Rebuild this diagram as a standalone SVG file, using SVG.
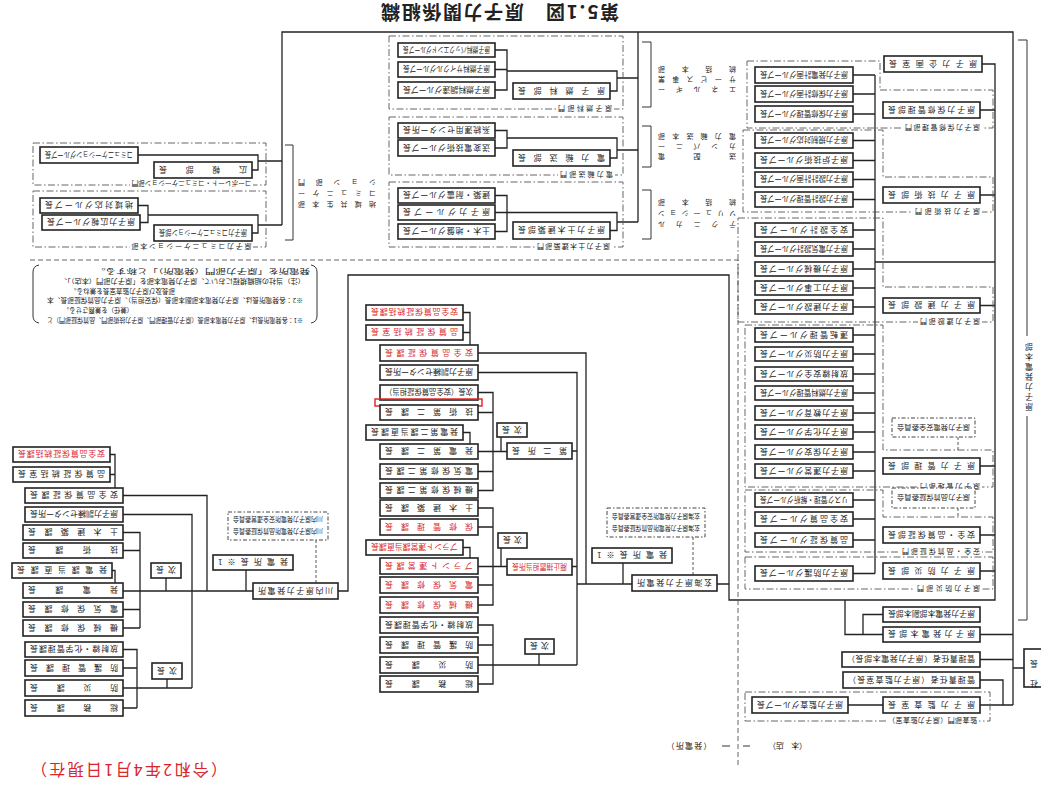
<svg xmlns="http://www.w3.org/2000/svg" width="1041" height="788" viewBox="0 0 1041 788">
<style>
.b{fill:#fff;stroke:#222;stroke-width:1.6}
.c{fill:none;stroke:#222;stroke-width:1.3}
.t1{fill:none;stroke:#333;stroke-width:1}
.d{fill:none;stroke:#555;stroke-width:0.9;stroke-dasharray:7 2.5 1.5 2.5}
.db{fill:#fff;stroke:#444;stroke-width:1;stroke-dasharray:4 2 1.5 2}
.k{fill:none;stroke:#444;stroke-width:0.9;stroke-dasharray:3 2}
.k2{fill:none;stroke:#555;stroke-width:0.9;stroke-dasharray:5 3}
.w{fill:#fff;stroke:none}
text{font-family:"Noto Sans CJK JP","Noto Sans",sans-serif;font-size:8px;fill:#222;dominant-baseline:central}
.r{fill:#d9262b}
.s{font-size:7px}
.n{font-size:6.5px}
</style>

<g id="connectors">
<path class="c" d="M138,155H258V170H252 M258,161H282 M138,205.5H148V222.5H140 M148,215H258V233H252 M258,225H282 M282,225V32H1013V705"/>
<path class="c" d="M495,50H507V90H495 M495,69.5H507 M507,71H617V91H610 M617,78H638 M495,130.5H507V148H495 M507,138H617V158H610 M617,150H638 M495,195.5H507V231.5H495 M495,212.5H617V230.5H610 M617,222H638 M638,32V222"/>
<path class="t1" d="M285,145H293V240H285 M642,42H651V107H642 M642,126H651V167H642 M642,190H651V239H642 M1018,40H1027V336 M1027,416V620H1018"/>
<path class="c" d="M982,64H995V600H729V275H348V591H338 M875,75V573.5 M875,262H995"/>
<path class="c" d="M853,75H875 M853,94H875 M853,114H875 M853,140.5H875 M853,160.5H875 M853,179.5H875 M853,199.5H875 M853,230H875 M853,249H875 M853,269H875 M853,288H875 M853,307H875 M853,335H875 M853,354H875 M853,374H875 M853,393H875 M853,413H875 M853,432H875 M853,452H875 M853,471H875 M853,500H875 M853,519H875 M853,540H875 M853,573.5H875"/>
<path class="c" d="M980,110H995 M980,195H995 M980,305.5H995 M980,466H995 M980,535H995 M980,571H995 M845,600V634.5H883 M863,634.5V614.5H883 M980,634.5H1013 M980,659.5H1013 M980,680H1003V705 M980,705H1013 M1013,668H1024 M848,705H883"/>
<path class="c" d="M110,454.5H115V488 M110,474.5H115 M123,495.5H207V591 M123,514.5H192V688 M123,532.5H140V628 M123,550.5H140 M123,609.5H140 M123,628H140 M112,570.5H115V583 M123,591H253 M166,578V591 M246,570V591 M123,649.5H137V708 M123,668H137 M123,688H192 M123,708H137 M167,679V688"/>
<path class="c" d="M463,312.5H470V345 M463,332.5H470 M478,353H586V584 M478,372.5H577V665 M478,392.5H493V490.5H478 M478,412.5H493 M478,451.5H507 M478,471.5H493 M463,432.5H470V444 M501,437V451.5 M572,451H577 M478,508H493V605H478 M478,527H493 M478,566.5H507 M478,585H493 M463,547.5H470V558 M501,548V566.5 M572,566.5H577 M478,625H493V684H478 M478,645H493 M478,665H577 M539,654V665 M577,584H632 M717,584H729 M623,563V584"/>
<path class="k" d="M693,537V575 M316,540V583 M958,437V450 M958,508V517"/>
</g>

<g id="frames">
<path class="k2" d="M30,260H738V765"/>
<rect class="d" x="33" y="143" width="233" height="42"/>
<rect class="d" x="33" y="191" width="233" height="56"/>
<rect class="d" x="389" y="36" width="234" height="73"/>
<rect class="d" x="389" y="117" width="234" height="58"/>
<rect class="d" x="389" y="182" width="234" height="65"/>
<path class="d" d="M747,61H880V90H993V128H747Z"/>
<path class="d" d="M743,130H883V177H993V212H743Z"/>
<path class="d" d="M738,218H883V287H993V322H738Z"/>
<path class="d" d="M745,325H883V450H993V487H745Z"/>
<path class="d" d="M745,490H883V517H993V552H745Z"/>
<rect class="d" x="745" y="557" width="248" height="32"/>
<rect class="d" x="745" y="692" width="245" height="29"/>
<path class="t1" d="M39,265Q33,266 33,272V316Q33,322 39,323 M311,265Q317,266 317,272V316Q317,322 311,323"/>
</g>

<g id="labels">
<rect class="w" x="130" y="180" width="123" height="8"/><text class="s" x="131.5" y="184" textLength="120" lengthAdjust="spacingAndGlyphs" transform="rotate(180 191.5 184)">コーポレート・コミュニケーション部門</text>
<rect class="w" x="130" y="242.5" width="123" height="8"/><text class="s" x="131.5" y="246.5" textLength="120" lengthAdjust="spacing" transform="rotate(180 191.5 246.5)">原子力コミュニケーション本部</text>
<rect class="w" x="556" y="105" width="58" height="8"/><text class="s" x="558" y="109" textLength="54" lengthAdjust="spacing" transform="rotate(180 585 109)">原子燃料部門</text>
<rect class="w" x="558" y="171" width="57" height="8"/><text class="s" x="560" y="175" textLength="53" lengthAdjust="spacing" transform="rotate(180 586.5 175)">電力輸送部門</text>
<rect class="w" x="535" y="243" width="77" height="8"/><text class="s" x="537" y="247" textLength="73" lengthAdjust="spacing" transform="rotate(180 573.5 247)">原子力土木建築部門</text>
<rect class="w" x="903" y="124" width="79" height="8"/><text class="s" x="905" y="128" textLength="75" lengthAdjust="spacing" transform="rotate(180 942.5 128)">原子力保修管理部門</text>
<rect class="w" x="913" y="208" width="69" height="8"/><text class="s" x="915" y="212" textLength="65" lengthAdjust="spacing" transform="rotate(180 947.5 212)">原子力技術部門</text>
<rect class="w" x="918" y="318" width="64" height="8"/><text class="s" x="920" y="322" textLength="60" lengthAdjust="spacing" transform="rotate(180 950 322)">原子力建設部門</text>
<rect class="w" x="918" y="483" width="64" height="8"/><text class="s" x="920" y="487" textLength="60" lengthAdjust="spacing" transform="rotate(180 950 487)">原子力管理部門</text>
<rect class="w" x="900" y="548" width="82" height="8"/><text class="s" x="902" y="552" textLength="78" lengthAdjust="spacing" transform="rotate(180 941 552)">安全・品質保証部門</text>
<rect class="w" x="915" y="585" width="67" height="8"/><text class="s" x="917" y="589" textLength="63" lengthAdjust="spacing" transform="rotate(180 948.5 589)">原子力防災部門</text>
<rect class="w" x="886" y="717" width="93" height="8"/><text class="s" x="888" y="721" textLength="89" lengthAdjust="spacing" transform="rotate(180 932.5 721)">監査部門（原子力監査室）</text>
<text class="s" x="298" y="205" textLength="78" lengthAdjust="spacing" transform="rotate(180 337 205)">地域共生本部</text>
<text class="s" x="298" y="194" textLength="78" lengthAdjust="spacing" transform="rotate(180 337 194)">コミュニケー</text>
<text class="s" x="298" y="183" textLength="78" lengthAdjust="spacing" transform="rotate(180 337 183)">ション部門</text>
<text class="s" x="658" y="90" textLength="78" lengthAdjust="spacing" transform="rotate(180 697 90)">エネルギー</text>
<text class="s" x="658" y="80" textLength="78" lengthAdjust="spacing" transform="rotate(180 697 80)">サービス事業</text>
<text class="s" x="658" y="70" textLength="78" lengthAdjust="spacing" transform="rotate(180 697 70)">統括本部</text>
<text class="s" x="658" y="157" textLength="78" lengthAdjust="spacing" transform="rotate(180 697 157)">送配電</text>
<text class="s" x="658" y="147" textLength="78" lengthAdjust="spacing" transform="rotate(180 697 147)">カンパニー</text>
<text class="s" x="658" y="137" textLength="78" lengthAdjust="spacing" transform="rotate(180 697 137)">電力輸送本部</text>
<text class="s" x="658" y="225" textLength="78" lengthAdjust="spacing" transform="rotate(180 697 225)">テクニカル</text>
<text class="s" x="658" y="214" textLength="78" lengthAdjust="spacing" transform="rotate(180 697 214)">ソリューション</text>
<text class="s" x="658" y="203" textLength="78" lengthAdjust="spacing" transform="rotate(180 697 203)">統括本部</text>
<text x="1029" y="376" text-anchor="middle" letter-spacing="2" style="writing-mode:vertical-rl" transform="rotate(180 1029 376)">原子力発電本部</text>
<text style="font-size:19px;font-weight:700" x="381" y="13" textLength="238" lengthAdjust="spacing" transform="rotate(180 500 13)">第5.1図　原子力関係組織</text>
<text class="r" style="font-size:16px" x="31" y="771" textLength="196" lengthAdjust="spacing" transform="rotate(180 129 771)">（令和2年4月1日現在）</text>
<text x="666.5" y="746" textLength="45" lengthAdjust="spacing" transform="rotate(180 689 746)">（発電所）</text>
<text x="768" y="746" textLength="39" lengthAdjust="spacing" transform="rotate(180 787.5 746)">（本　店）</text>
<path class="t1" d="M722,746H730 M743,746H750"/>
<text class="n" x="47" y="321" textLength="256" lengthAdjust="spacingAndGlyphs" transform="rotate(180 175 321)">※1：各発電所長は、原子力発電本部長（原子力管理部門、原子力技術部門、品質保証部門）と</text>
<text class="n" x="63" y="311" textLength="70" lengthAdjust="spacingAndGlyphs" transform="rotate(180 98 311)">（兼任）を兼務させる。</text>
<text class="n" x="47" y="301" textLength="256" lengthAdjust="spacingAndGlyphs" transform="rotate(180 175 301)">※2：各発電所長は、原子力発電本部副本部長（保安担当）、原子力品質保証部長、本</text>
<text class="n" x="70" y="292" textLength="105" lengthAdjust="spacingAndGlyphs" transform="rotate(180 122.5 292)">部長及び原子力監査室長を兼ねる。</text>
<text class="n" x="60" y="282" textLength="245" lengthAdjust="spacingAndGlyphs" transform="rotate(180 182.5 282)">（注）当社の組織規程において、原子力発電本部を「原子力部門（本店）」、</text>
<text class="n" x="95" y="272" textLength="215" lengthAdjust="spacingAndGlyphs" transform="rotate(180 202.5 272)">発電所を「原子力部門（発電所）」と称する。</text>
</g>

<g id="head-office">
<g id="n-A1"><rect class="b" x="40" y="147" width="98" height="16"/><text x="45" y="155" textLength="88" lengthAdjust="spacingAndGlyphs" transform="rotate(180 89 155)">コミュニケーショングループ長</text></g>
<g id="n-A2"><rect class="b" x="154" y="162" width="98" height="16"/><text x="159" y="170" textLength="88" lengthAdjust="spacing" transform="rotate(180 203 170)">広報部長</text></g>
<g id="n-B1"><rect class="b" x="40" y="198" width="98" height="15"/><text x="45" y="205.5" textLength="88" lengthAdjust="spacing" transform="rotate(180 89 205.5)">地域対応グループ長</text></g>
<g id="n-B2"><rect class="b" x="42" y="215" width="98" height="15"/><text x="47" y="222.5" textLength="88" lengthAdjust="spacing" transform="rotate(180 91 222.5)">原子力広報グループ長</text></g>
<g id="n-B3"><rect class="b" x="154" y="225" width="98" height="16"/><text x="159" y="233" textLength="88" lengthAdjust="spacingAndGlyphs" transform="rotate(180 203 233)">原子力コミュニケーション部長</text></g>

<g id="n-G1a"><rect class="b" x="398" y="43" width="97" height="14"/><text x="403" y="50" textLength="87" lengthAdjust="spacingAndGlyphs" transform="rotate(180 446.5 50)">原子燃料バックエンドグループ長</text></g>
<g id="n-G1b"><rect class="b" x="398" y="62" width="97" height="15"/><text x="403" y="69.5" textLength="87" lengthAdjust="spacingAndGlyphs" transform="rotate(180 446.5 69.5)">原子燃料サイクルグループ長</text></g>
<g id="n-G1c"><rect class="b" x="398" y="82" width="97" height="16"/><text x="403" y="90" textLength="87" lengthAdjust="spacingAndGlyphs" transform="rotate(180 446.5 90)">原子燃料調達グループ長</text></g>
<g id="n-G1h"><rect class="b" x="513" y="83" width="97" height="16"/><text x="518" y="91" textLength="87" lengthAdjust="spacing" transform="rotate(180 561.5 91)">原子燃料部長</text></g>
<g id="n-G2a"><rect class="b" x="398" y="123" width="97" height="15"/><text x="403" y="130.5" textLength="87" lengthAdjust="spacing" transform="rotate(180 446.5 130.5)">系統運用センター所長</text></g>
<g id="n-G2b"><rect class="b" x="398" y="140" width="97" height="16"/><text x="403" y="148" textLength="87" lengthAdjust="spacing" transform="rotate(180 446.5 148)">送変電技術グループ長</text></g>
<g id="n-G2h"><rect class="b" x="513" y="150" width="97" height="16"/><text x="518" y="158" textLength="87" lengthAdjust="spacing" transform="rotate(180 561.5 158)">電力輸送部長</text></g>
<g id="n-G3a"><rect class="b" x="398" y="188" width="97" height="15"/><text x="403" y="195.5" textLength="87" lengthAdjust="spacing" transform="rotate(180 446.5 195.5)">建築・耐震グループ長</text></g>
<g id="n-G3b"><rect class="b" x="398" y="205" width="97" height="15"/><text x="403" y="212.5" textLength="87" lengthAdjust="spacing" transform="rotate(180 446.5 212.5)">原子力グループ長</text></g>
<g id="n-G3c"><rect class="b" x="398" y="224" width="97" height="15"/><text x="403" y="231.5" textLength="87" lengthAdjust="spacing" transform="rotate(180 446.5 231.5)">土木・地盤グループ長</text></g>
<g id="n-G3h"><rect class="b" x="513" y="222" width="97" height="17"/><text x="518" y="230.5" textLength="87" lengthAdjust="spacing" transform="rotate(180 561.5 230.5)">原子力土木建築部長</text></g>

<g id="n-RB1"><rect class="b" x="884" y="56" width="98" height="16"/><text x="889" y="64" textLength="88" lengthAdjust="spacing" transform="rotate(180 933 64)">原子力企画室長</text></g>
<g id="n-RB2"><rect class="b" x="883" y="102" width="97" height="16"/><text x="888" y="110" textLength="87" lengthAdjust="spacing" transform="rotate(180 931.5 110)">原子力保修管理部長</text></g>
<g id="n-RB3"><rect class="b" x="883" y="187" width="97" height="16"/><text x="888" y="195" textLength="87" lengthAdjust="spacing" transform="rotate(180 931.5 195)">原子力技術部長</text></g>
<g id="n-RB4"><rect class="b" x="883" y="298" width="97" height="15"/><text x="888" y="305.5" textLength="87" lengthAdjust="spacing" transform="rotate(180 931.5 305.5)">原子力建設部長</text></g>
<g id="n-RB5"><rect class="b" x="883" y="458" width="97" height="16"/><text x="888" y="466" textLength="87" lengthAdjust="spacing" transform="rotate(180 931.5 466)">原子力管理部長</text></g>
<g id="n-RB6"><rect class="b" x="883" y="527" width="97" height="16"/><text x="888" y="535" textLength="87" lengthAdjust="spacing" transform="rotate(180 931.5 535)">安全・品質保証部長</text></g>
<g id="n-RB7"><rect class="b" x="883" y="563" width="97" height="16"/><text x="888" y="571" textLength="87" lengthAdjust="spacing" transform="rotate(180 931.5 571)">原子力防災部長</text></g>
<g id="n-C1"><rect class="db" x="892" y="418" width="83" height="19"/><text class="s" x="897" y="427.5" textLength="73" lengthAdjust="spacingAndGlyphs" transform="rotate(180 933.5 427.5)">原子力発電安全委員会</text></g>
<g id="n-C2"><rect class="db" x="892" y="488" width="83" height="20"/><text class="s" x="897" y="498" textLength="73" lengthAdjust="spacingAndGlyphs" transform="rotate(180 933.5 498)">原子力品質保証委員会</text></g>
<g id="n-VP"><rect class="b" x="883" y="607" width="97" height="15"/><text x="888" y="614.5" textLength="87" lengthAdjust="spacingAndGlyphs" transform="rotate(180 931.5 614.5)">原子力発電本部副本部長</text></g>
<g id="n-GM"><rect class="b" x="883" y="627" width="97" height="15"/><text x="888" y="634.5" textLength="87" lengthAdjust="spacing" transform="rotate(180 931.5 634.5)">原子力発電本部長</text></g>
<g id="n-MR1"><rect class="b" x="842" y="652" width="138" height="15"/><text x="847" y="659.5" textLength="128" lengthAdjust="spacing" transform="rotate(180 911 659.5)">管理責任者（原子力発電本部長）</text></g>
<g id="n-MR2"><rect class="b" x="843" y="672" width="137" height="16"/><text x="848" y="680" textLength="127" lengthAdjust="spacing" transform="rotate(180 911.5 680)">管理責任者（原子力監査室長）</text></g>
<g id="n-AU"><rect class="b" x="883" y="697" width="97" height="16"/><text x="888" y="705" textLength="87" lengthAdjust="spacing" transform="rotate(180 931.5 705)">原子力監査室長</text></g>
<g id="n-AUG"><rect class="b" x="752" y="697" width="96" height="16"/><text x="757" y="705" textLength="86" lengthAdjust="spacing" transform="rotate(180 800 705)">原子力監査グループ長</text></g>
<g id="n-PR"><rect class="b" x="1024" y="649" width="22" height="38"/><text x="1034" y="668" text-anchor="middle" letter-spacing="12" style="writing-mode:vertical-rl" transform="rotate(180 1034 668)">社長</text></g>

<g id="n-R1a"><rect class="b" x="755" y="67" width="98" height="16"/><text x="760" y="75" textLength="88" lengthAdjust="spacingAndGlyphs" transform="rotate(180 804 75)">原子力発電計画グループ長</text></g>
<g id="n-R1b"><rect class="b" x="755" y="86" width="98" height="16"/><text x="760" y="94" textLength="88" lengthAdjust="spacingAndGlyphs" transform="rotate(180 804 94)">原子力保修計画グループ長</text></g>
<g id="n-R1c"><rect class="b" x="755" y="106" width="98" height="16"/><text x="760" y="114" textLength="88" lengthAdjust="spacingAndGlyphs" transform="rotate(180 804 114)">原子力保修管理グループ長</text></g>
<g id="n-R2a"><rect class="b" x="755" y="133" width="98" height="15"/><text x="760" y="140.5" textLength="88" lengthAdjust="spacingAndGlyphs" transform="rotate(180 804 140.5)">原子力規制対応グループ長</text></g>
<g id="n-R2b"><rect class="b" x="755" y="153" width="98" height="15"/><text x="760" y="160.5" textLength="88" lengthAdjust="spacing" transform="rotate(180 804 160.5)">原子炉技術グループ長</text></g>
<g id="n-R2c"><rect class="b" x="755" y="172" width="98" height="15"/><text x="760" y="179.5" textLength="88" lengthAdjust="spacingAndGlyphs" transform="rotate(180 804 179.5)">原子力設計計画グループ長</text></g>
<g id="n-R2d"><rect class="b" x="755" y="192" width="98" height="15"/><text x="760" y="199.5" textLength="88" lengthAdjust="spacingAndGlyphs" transform="rotate(180 804 199.5)">原子力設計管理グループ長</text></g>
<g id="n-R3a"><rect class="b" x="755" y="223" width="98" height="14"/><text x="760" y="230" textLength="88" lengthAdjust="spacing" transform="rotate(180 804 230)">安全設計グループ長</text></g>
<g id="n-R3b"><rect class="b" x="755" y="242" width="98" height="14"/><text x="760" y="249" textLength="88" lengthAdjust="spacingAndGlyphs" transform="rotate(180 804 249)">原子力電気設計グループ長</text></g>
<g id="n-R3c"><rect class="b" x="755" y="262" width="98" height="14"/><text x="760" y="269" textLength="88" lengthAdjust="spacing" transform="rotate(180 804 269)">原子力機械グループ長</text></g>
<g id="n-R3d"><rect class="b" x="755" y="281" width="98" height="14"/><text x="760" y="288" textLength="88" lengthAdjust="spacing" transform="rotate(180 804 288)">原子力工事グループ長</text></g>
<g id="n-R3e"><rect class="b" x="755" y="300" width="98" height="14"/><text x="760" y="307" textLength="88" lengthAdjust="spacing" transform="rotate(180 804 307)">原子力建設グループ長</text></g>
<g id="n-R4a"><rect class="b" x="755" y="328" width="98" height="14"/><text x="760" y="335" textLength="88" lengthAdjust="spacing" transform="rotate(180 804 335)">運転管理グループ長</text></g>
<g id="n-R4b"><rect class="b" x="755" y="347" width="98" height="14"/><text x="760" y="354" textLength="88" lengthAdjust="spacing" transform="rotate(180 804 354)">原子力防災グループ長</text></g>
<g id="n-R4c"><rect class="b" x="755" y="367" width="98" height="14"/><text x="760" y="374" textLength="88" lengthAdjust="spacing" transform="rotate(180 804 374)">放射線安全グループ長</text></g>
<g id="n-R4d"><rect class="b" x="755" y="386" width="98" height="14"/><text x="760" y="393" textLength="88" lengthAdjust="spacingAndGlyphs" transform="rotate(180 804 393)">原子力燃料管理グループ長</text></g>
<g id="n-R4e"><rect class="b" x="755" y="406" width="98" height="14"/><text x="760" y="413" textLength="88" lengthAdjust="spacing" transform="rotate(180 804 413)">原子力教育グループ長</text></g>
<g id="n-R4f"><rect class="b" x="755" y="425" width="98" height="14"/><text x="760" y="432" textLength="88" lengthAdjust="spacing" transform="rotate(180 804 432)">原子力化学グループ長</text></g>
<g id="n-R4g"><rect class="b" x="755" y="445" width="98" height="14"/><text x="760" y="452" textLength="88" lengthAdjust="spacing" transform="rotate(180 804 452)">原子力保安グループ長</text></g>
<g id="n-R4h"><rect class="b" x="755" y="464" width="98" height="14"/><text x="760" y="471" textLength="88" lengthAdjust="spacing" transform="rotate(180 804 471)">原子力運営グループ長</text></g>
<g id="n-R5a"><rect class="b" x="755" y="493" width="98" height="14"/><text x="760" y="500" textLength="88" lengthAdjust="spacingAndGlyphs" transform="rotate(180 804 500)">リスク管理・解析グループ長</text></g>
<g id="n-R5b"><rect class="b" x="755" y="512" width="98" height="14"/><text x="760" y="519" textLength="88" lengthAdjust="spacing" transform="rotate(180 804 519)">安全品質グループ長</text></g>
<g id="n-R5c"><rect class="b" x="755" y="533" width="98" height="14"/><text x="760" y="540" textLength="88" lengthAdjust="spacing" transform="rotate(180 804 540)">品質保証グループ長</text></g>
<g id="n-R6a"><rect class="b" x="755" y="566" width="98" height="15"/><text x="760" y="573.5" textLength="88" lengthAdjust="spacing" transform="rotate(180 804 573.5)">原子力防護グループ長</text></g>
</g>

<g id="station-genkai">
<g id="n-M1"><rect class="b" x="366" y="305" width="97" height="15"/><text class="r" x="371" y="312.5" textLength="87" lengthAdjust="spacing" transform="rotate(180 414.5 312.5)">安全品質保証統括課長</text></g>
<g id="n-M2"><rect class="b" x="366" y="325" width="97" height="15"/><text class="r" x="371" y="332.5" textLength="87" lengthAdjust="spacing" transform="rotate(180 414.5 332.5)">品質保証統括室長</text></g>
<g id="n-M3"><rect class="b" x="380" y="345" width="98" height="16"/><text class="r" x="385" y="353" textLength="88" lengthAdjust="spacing" transform="rotate(180 429 353)">安全品質保証課長</text></g>
<g id="n-M4"><rect class="b" x="380" y="365" width="98" height="15"/><text x="385" y="372.5" textLength="88" lengthAdjust="spacing" transform="rotate(180 429 372.5)">原子力訓練センター所長</text></g>
<g id="n-M5"><rect class="b" x="380" y="385" width="98" height="15"/><text x="385" y="392.5" textLength="88" lengthAdjust="spacingAndGlyphs" transform="rotate(180 429 392.5)">次長（安全品質保証担当）</text></g>
<rect x="375" y="399" width="107" height="7" fill="none" stroke="#e02020" stroke-width="1.4"/>
<g id="n-M6"><rect class="b" x="380" y="405" width="98" height="15"/><text x="385" y="412.5" textLength="88" lengthAdjust="spacing" transform="rotate(180 429 412.5)">技術第二課長</text></g>
<g id="n-M7"><rect class="b" x="366" y="425" width="97" height="15"/><text x="371" y="432.5" textLength="87" lengthAdjust="spacing" transform="rotate(180 414.5 432.5)">発電第二課当直課長</text></g>
<g id="n-M8"><rect class="b" x="380" y="444" width="98" height="15"/><text x="385" y="451.5" textLength="88" lengthAdjust="spacing" transform="rotate(180 429 451.5)">発電第二課長</text></g>
<g id="n-M9"><rect class="b" x="380" y="464" width="98" height="15"/><text x="385" y="471.5" textLength="88" lengthAdjust="spacing" transform="rotate(180 429 471.5)">電気保修第二課長</text></g>
<g id="n-M10"><rect class="b" x="380" y="483" width="98" height="15"/><text x="385" y="490.5" textLength="88" lengthAdjust="spacing" transform="rotate(180 429 490.5)">機械保修第二課長</text></g>
<g id="n-M11"><rect class="b" x="380" y="500" width="98" height="16"/><text x="385" y="508" textLength="88" lengthAdjust="spacing" transform="rotate(180 429 508)">土木建築課長</text></g>
<g id="n-M12"><rect class="b" x="380" y="519" width="98" height="16"/><text class="r" x="385" y="527" textLength="88" lengthAdjust="spacing" transform="rotate(180 429 527)">保修管理課長</text></g>
<g id="n-M13"><rect class="b" x="366" y="540" width="97" height="15"/><text class="r" x="371" y="547.5" textLength="87" lengthAdjust="spacingAndGlyphs" transform="rotate(180 414.5 547.5)">プラント運営課当直課長</text></g>
<g id="n-M14"><rect class="b" x="380" y="558" width="98" height="16"/><text class="r" x="385" y="566" textLength="88" lengthAdjust="spacing" transform="rotate(180 429 566)">プラント運営課長</text></g>
<g id="n-M15"><rect class="b" x="380" y="577" width="98" height="16"/><text class="r" x="385" y="585" textLength="88" lengthAdjust="spacing" transform="rotate(180 429 585)">電気保修課長</text></g>
<g id="n-M16"><rect class="b" x="380" y="597" width="98" height="16"/><text class="r" x="385" y="605" textLength="88" lengthAdjust="spacing" transform="rotate(180 429 605)">機械保修課長</text></g>
<g id="n-M17"><rect class="b" x="380" y="617" width="98" height="16"/><text x="385" y="625" textLength="88" lengthAdjust="spacing" transform="rotate(180 429 625)">放射線・化学管理課長</text></g>
<g id="n-M18"><rect class="b" x="380" y="637" width="98" height="16"/><text x="385" y="645" textLength="88" lengthAdjust="spacing" transform="rotate(180 429 645)">防護管理課長</text></g>
<g id="n-M19"><rect class="b" x="380" y="657" width="98" height="16"/><text x="385" y="665" textLength="88" lengthAdjust="spacing" transform="rotate(180 429 665)">防災課長</text></g>
<g id="n-M20"><rect class="b" x="380" y="676" width="98" height="16"/><text x="385" y="684" textLength="88" lengthAdjust="spacing" transform="rotate(180 429 684)">総務課長</text></g>
<g id="n-MJ1"><rect class="b" x="497" y="423" width="30" height="14"/><text x="502" y="430" textLength="20" lengthAdjust="spacing" transform="rotate(180 512 430)">次長</text></g>
<g id="n-MH2"><rect class="b" x="507" y="443" width="65" height="16"/><text x="512" y="451" textLength="55" lengthAdjust="spacing" transform="rotate(180 539.5 451)">第二所長</text></g>
<g id="n-MJ2"><rect class="b" x="498" y="533" width="29" height="15"/><text x="503" y="540.5" textLength="19" lengthAdjust="spacing" transform="rotate(180 512.5 540.5)">次長</text></g>
<g id="n-MH1"><rect class="b" x="507" y="559" width="65" height="16"/><text class="r" x="512" y="567" textLength="55" lengthAdjust="spacingAndGlyphs" transform="rotate(180 539.5 567)">廃止措置担当所長</text></g>
<g id="n-MJ3"><rect class="b" x="525" y="639" width="29" height="15"/><text x="530" y="646.5" textLength="19" lengthAdjust="spacing" transform="rotate(180 539.5 646.5)">次長</text></g>
<g id="n-MS"><rect class="b" x="592" y="548" width="80" height="15"/><text x="597" y="555.5" textLength="70" lengthAdjust="spacing" transform="rotate(180 632 555.5)">発電所長※1</text></g>
<g id="n-MPS"><rect class="b" x="632" y="575" width="85" height="16"/><text x="637" y="583" textLength="75" lengthAdjust="spacing" transform="rotate(180 674.5 583)">玄海原子力発電所</text></g>
<g id="n-MC"><rect class="db" x="607" y="508" width="98" height="29"/><text class="s" x="612" y="529" textLength="88" lengthAdjust="spacingAndGlyphs" transform="rotate(180 656 529)">玄海原子力発電所品質保証委員会</text><text class="s" x="612" y="517" textLength="88" lengthAdjust="spacingAndGlyphs" transform="rotate(180 656 517)">玄海原子力発電所安全運営委員会</text></g>
</g>

<g id="station-sendai">
<g id="n-L1"><rect class="b" x="13" y="447" width="97" height="15"/><text class="r" x="18" y="454.5" textLength="87" lengthAdjust="spacing" transform="rotate(180 61.5 454.5)">安全品質保証統括課長</text></g>
<g id="n-L2"><rect class="b" x="13" y="467" width="97" height="15"/><text x="18" y="474.5" textLength="87" lengthAdjust="spacing" transform="rotate(180 61.5 474.5)">品質保証統括室長</text></g>
<g id="n-L3"><rect class="b" x="25" y="488" width="98" height="15"/><text x="30" y="495.5" textLength="88" lengthAdjust="spacing" transform="rotate(180 74 495.5)">安全品質保証課長</text></g>
<g id="n-L4"><rect class="b" x="25" y="507" width="98" height="15"/><text x="30" y="514.5" textLength="88" lengthAdjust="spacing" transform="rotate(180 74 514.5)">原子力訓練センター所長</text></g>
<g id="n-L5"><rect class="b" x="23" y="525" width="100" height="15"/><text x="28" y="532.5" textLength="90" lengthAdjust="spacing" transform="rotate(180 73 532.5)">土木建築課長</text></g>
<g id="n-L6"><rect class="b" x="23" y="543" width="100" height="15"/><text x="28" y="550.5" textLength="90" lengthAdjust="spacing" transform="rotate(180 73 550.5)">技術課長</text></g>
<g id="n-L7"><rect class="b" x="12" y="563" width="100" height="15"/><text x="17" y="570.5" textLength="90" lengthAdjust="spacing" transform="rotate(180 62 570.5)">発電課当直課長</text></g>
<g id="n-L8"><rect class="b" x="23" y="583" width="100" height="15"/><text x="28" y="590.5" textLength="90" lengthAdjust="spacing" transform="rotate(180 73 590.5)">発電課長</text></g>
<g id="n-L9"><rect class="b" x="23" y="602" width="100" height="15"/><text x="28" y="609.5" textLength="90" lengthAdjust="spacing" transform="rotate(180 73 609.5)">電気保修課長</text></g>
<g id="n-L10"><rect class="b" x="23" y="620" width="100" height="16"/><text x="28" y="628" textLength="90" lengthAdjust="spacing" transform="rotate(180 73 628)">機械保修課長</text></g>
<g id="n-L11"><rect class="b" x="25" y="642" width="98" height="15"/><text x="30" y="649.5" textLength="88" lengthAdjust="spacing" transform="rotate(180 74 649.5)">放射線・化学管理課長</text></g>
<g id="n-L12"><rect class="b" x="25" y="660" width="98" height="16"/><text x="30" y="668" textLength="88" lengthAdjust="spacing" transform="rotate(180 74 668)">防護管理課長</text></g>
<g id="n-L13"><rect class="b" x="25" y="680" width="98" height="16"/><text x="30" y="688" textLength="88" lengthAdjust="spacing" transform="rotate(180 74 688)">防災課長</text></g>
<g id="n-L14"><rect class="b" x="25" y="700" width="98" height="16"/><text x="30" y="708" textLength="88" lengthAdjust="spacing" transform="rotate(180 74 708)">総務課長</text></g>
<g id="n-LJ1"><rect class="b" x="151" y="563" width="30" height="15"/><text x="156" y="570.5" textLength="20" lengthAdjust="spacing" transform="rotate(180 166 570.5)">次長</text></g>
<g id="n-LJ2"><rect class="b" x="152" y="663" width="30" height="16"/><text x="157" y="671" textLength="20" lengthAdjust="spacing" transform="rotate(180 167 671)">次長</text></g>
<g id="n-LS"><rect class="b" x="213" y="555" width="80" height="15"/><text x="218" y="562.5" textLength="70" lengthAdjust="spacing" transform="rotate(180 253 562.5)">発電所長※1</text></g>
<g id="n-LPS"><rect class="b" x="253" y="583" width="85" height="16"/><text x="258" y="591" textLength="75" lengthAdjust="spacing" transform="rotate(180 295.5 591)">川内原子力発電所</text></g>
<g id="n-LC"><rect class="db" x="228" y="512" width="100" height="28"/><text class="s" x="233" y="532" textLength="90" lengthAdjust="spacingAndGlyphs" transform="rotate(180 278 532)">川内原子力発電所品質保証委員会</text><text class="s" x="233" y="520" textLength="90" lengthAdjust="spacingAndGlyphs" transform="rotate(180 278 520)">川内原子力発電所安全運営委員会</text></g>
</g>
</svg>
